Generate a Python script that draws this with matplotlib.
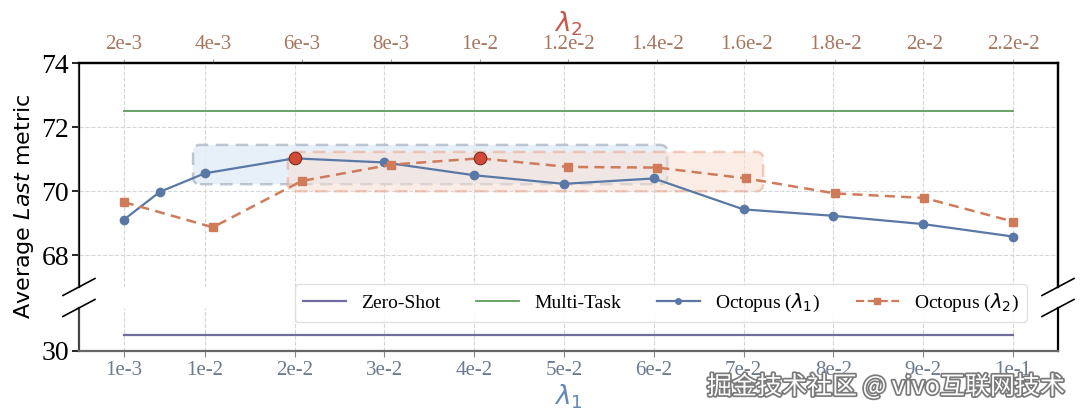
import matplotlib.pyplot as plt
import matplotlib.patheffects as pe
from matplotlib.patches import FancyBboxPatch
from matplotlib.lines import Line2D
import numpy as np

# 数据
lam1 = [0.001, 0.005, 0.01, 0.02, 0.03, 0.04, 0.05, 0.06, 0.07, 0.08, 0.09, 0.1]
octopus_l1 = [69.11, 69.98, 70.56, 71.03, 70.90, 70.50, 70.23, 70.40, 69.43, 69.23, 68.97, 68.58]
lam1_ticks = [0.001, 0.01, 0.02, 0.03, 0.04, 0.05, 0.06, 0.07, 0.08, 0.09, 0.1]
lam1_labels = ['1e-3', '1e-2', '2e-2', '3e-2', '4e-2', '5e-2', '6e-2', '7e-2', '8e-2', '9e-2', '1e-1']

lam2 = [0.002, 0.004, 0.006, 0.008, 0.010, 0.012, 0.014, 0.016, 0.018, 0.020, 0.022]
octopus_l2 = [69.66, 68.87, 70.32, 70.83, 71.03, 70.76, 70.74, 70.40, 69.93, 69.79, 69.05]
lam2_labels = ['2e-3', '4e-3', '6e-3', '8e-3', '1e-2', '1.2e-2', '1.4e-2', '1.6e-2', '1.8e-2', '2e-2', '2.2e-2']

multi_task = 72.5
zero_shot = 30.5

# 高亮框 (x0, x1, y0, y1)
box_l1 = (0.0087, 0.0615, 70.22, 71.45)   # λ1 坐标
box_l2 = (0.00569, 0.01638, 70.0, 71.23)  # λ2 坐标

plt.rcParams['font.family'] = 'serif'
plt.rcParams['font.serif'] = ['Liberation Serif', 'DejaVu Serif']

c_blue = '#5a78a6'
c_orange = '#cf7b5a'
c_red = '#d44a36'
c_zero = '#6e6d9e'
c_multi = '#5e9a5e'

fig = plt.figure(figsize=(10.8, 4.12), dpi=100)
ax = fig.add_axes([0.0731, 0.3034, 0.9065, 0.5425])    # 上半部分
axb = fig.add_axes([0.0731, 0.1481, 0.9065, 0.1044])   # 下半部分 (断轴)
ax2 = ax.twiny()                                        # λ2 轴

xlim1 = (-0.00401, 0.10501)
xlim2 = (0.00099, 0.02301)
ax.set_xlim(xlim1)
axb.set_xlim(xlim1)
ax2.set_xlim(xlim2)
ax.set_ylim(67, 74)
axb.set_ylim(30, 31.35)

# 网格
for a in (ax, axb):
    a.set_xticks(lam1_ticks)
    a.grid(True, ls='--', color='#d6d6d6', lw=0.8)
    a.set_axisbelow(True)
ax.set_yticks([68, 70, 72, 74])
axb.set_yticks([30])

# 高亮框
sx1 = 979 / (xlim1[1] - xlim1[0])
sx2 = 979 / (xlim2[1] - xlim2[0])
sy = 223.5 / 7
r = 7
p1 = FancyBboxPatch((box_l1[0], box_l1[2]), box_l1[1] - box_l1[0], box_l1[3] - box_l1[2],
                    boxstyle='round,pad=0,rounding_size=%f' % (r / sx1),
                    mutation_aspect=(r / sy) / (r / sx1),
                    fc='#e3eef9', ec='#b3bcc8', alpha=0.85, lw=1.8, ls=(0, (5, 3)), zorder=1)
ax.add_patch(p1)
p2 = FancyBboxPatch((box_l2[0], box_l2[2]), box_l2[1] - box_l2[0], box_l2[3] - box_l2[2],
                    boxstyle='round,pad=0,rounding_size=%f' % (r / sx2),
                    mutation_aspect=(r / sy) / (r / sx2),
                    fc='#f9dfd3', ec='#e6a58d', alpha=0.55, lw=1.8, ls=(0, (5, 3)),
                    transform=ax2.transData, zorder=1.5)
ax.add_patch(p2)

# 基线
ax.plot([lam1[0], lam1[-1]], [multi_task, multi_task], color=c_multi, lw=1.3, zorder=2)
axb.plot([lam1[0], lam1[-1]], [zero_shot, zero_shot], color=c_zero, lw=1.6, zorder=2)

# 曲线
ax.plot(lam1, octopus_l1, '-o', color=c_blue, lw=1.6, ms=6, zorder=3)
ax2.plot(lam2, octopus_l2, '--s', color=c_orange, lw=1.8, ms=5.5, dashes=(4, 2.5), zorder=3)

# 最优点
i1 = int(np.argmax(octopus_l1))
i2 = int(np.argmax(octopus_l2))
ax.plot(lam1[i1], octopus_l1[i1], 'o', color=c_red, mec='#7a2b20', mew=0.8, ms=9, zorder=4)
ax2.plot(lam2[i2], octopus_l2[i2], 'o', color=c_red, mec='#7a2b20', mew=0.8, ms=9, zorder=4)

# 坐标轴样式
ax.spines['bottom'].set_visible(False)
ax2.spines['bottom'].set_visible(False)
axb.spines['top'].set_visible(False)
for a in (ax, ax2):
    a.spines['top'].set_linewidth(1.6)
    a.spines['top'].set_color('black')
    a.spines['right'].set_linewidth(1.6)
for s in ('left', 'right', 'bottom'):
    axb.spines[s].set_linewidth(1.6)
ax.spines['left'].set_color('#444444')
ax.spines['left'].set_linewidth(1.6)
axb.spines['left'].set_color('#444444')
axb.spines['bottom'].set_color('#666666')

ax.tick_params(axis='x', which='both', bottom=False, labelbottom=False)
ax.tick_params(axis='y', labelsize=20, length=5, width=1.2, pad=2)
axb.tick_params(axis='y', labelsize=20, length=5, width=1.2, pad=2)
axb.set_xticklabels(lam1_labels)
axb.tick_params(axis='x', labelsize=15, labelcolor='#6b7a90', length=4, color='#888888', pad=3)

ax2.set_xticks(lam2)
ax2.set_xticklabels(lam2_labels)
ax2.tick_params(axis='x', labelsize=15, labelcolor='#a8765f', length=3, color='#999999', pad=4)

ax2.set_xlabel(r'$\lambda_2$', fontsize=19, color='#c9574a', labelpad=2)
axb.set_xlabel(r'$\lambda_1$', fontsize=19, color='#6488b8', labelpad=2)

fig.text(0.022, 0.50, r'Average $\mathit{Last}$ metric', rotation=90, ha='center', va='center',
         fontsize=16, family='DejaVu Sans')

# 断轴标记
d = 16 / 979
for a, h in ((ax, 223.5), (axb, 43)):
    dy = 8.5 / h
    y0 = 0 if a is ax else 1
    for x0 in (0, 1):
        a.plot([x0 - d, x0 + d], [y0 - dy, y0 + dy], transform=a.transAxes,
               color='k', lw=1.2, clip_on=False, zorder=10)

# 图例
handles = [Line2D([], [], color=c_zero, lw=1.6),
           Line2D([], [], color=c_multi, lw=1.3),
           Line2D([], [], color=c_blue, lw=1.6, marker='o', ms=4),
           Line2D([], [], color=c_orange, lw=1.6, ls='--', marker='s', ms=4)]
labels = ['Zero-Shot', 'Multi-Task', r'Octopus ($\lambda_1$)', r'Octopus ($\lambda_2$)']
fig.legend(handles, labels, loc='lower left', mode='expand', ncol=4,
           bbox_to_anchor=(295 / 1080, 1 - 322 / 412, 732 / 1080, 37 / 412),
           borderaxespad=0, fontsize=14, handlelength=2.2, frameon=True,
           edgecolor='#dddddd', framealpha=0.9, fancybox=True)

# 水印
fig.text(0.986, 0.061, '掘金技术社区 @ vivo互联网技术', ha='right', va='center',
         family=['Noto Sans CJK SC', 'DejaVu Sans'], fontsize=18, color='white',
         path_effects=[pe.withStroke(linewidth=2.5, foreground='#7a7a7a')])

plt.savefig('out.png', dpi=100)
